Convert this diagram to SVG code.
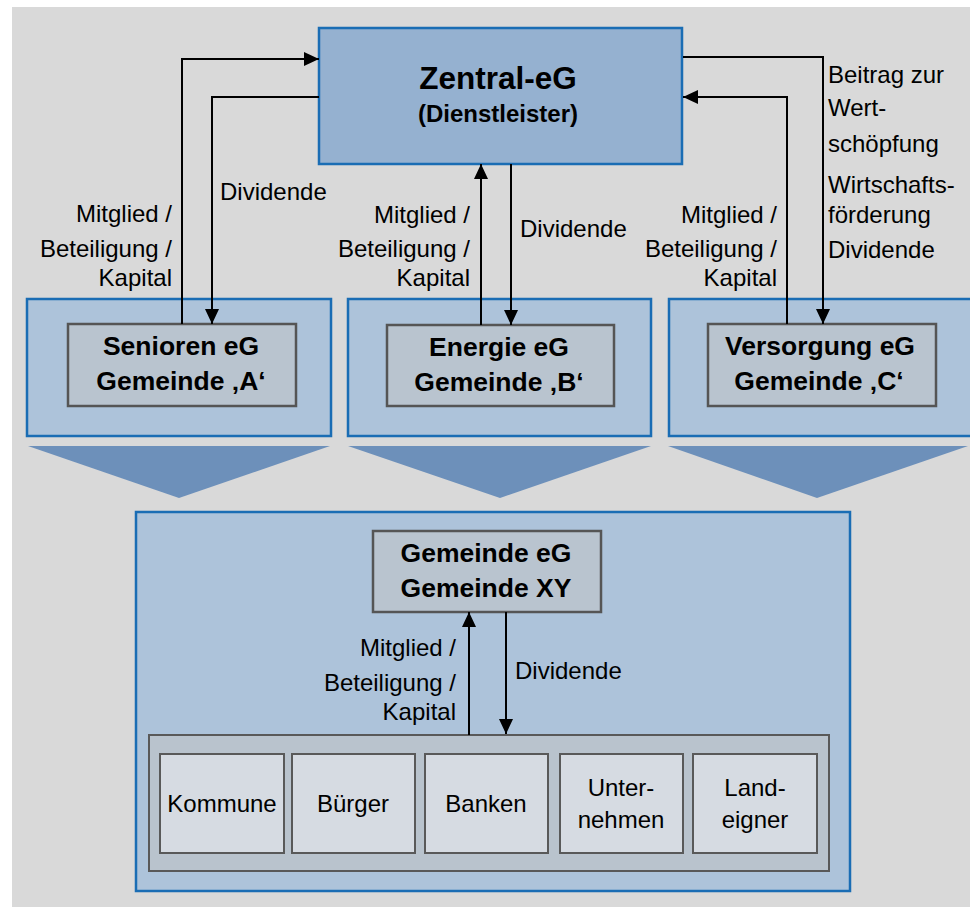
<svg xmlns="http://www.w3.org/2000/svg" width="970" height="907" viewBox="0 0 970 907">
<defs>
<marker id="ah" viewBox="0 0 15 14" refX="15" refY="7" markerWidth="15" markerHeight="14" markerUnits="userSpaceOnUse" orient="auto">
<path d="M0,0 L15,7 L0,14 z" fill="#000"/>
</marker>
<style>
.bg{fill:#d9d9d9}
.outer{fill:#adc3da;stroke:#1a6db4;stroke-width:2.5}
.central{fill:#95b1d0;stroke:#1a6db4;stroke-width:2.5}
.inner{fill:#b9c4cf;stroke:#555;stroke-width:2.5}
.chev{fill:#6d90ba}
.cont{fill:#b9c3cd;stroke:#595959;stroke-width:2}
.small{fill:#d6dbe2;stroke:#595959;stroke-width:2}
.b{font-family:"Liberation Sans",Arial,sans-serif;font-weight:bold;fill:#000}
.t{font-family:"Liberation Sans",Arial,sans-serif;font-size:24px;fill:#000}
.nb{font-size:26.5px;text-anchor:middle}
.c{text-anchor:middle}
.r{text-anchor:end}
.ln{fill:none;stroke:#000;stroke-width:2;marker-end:url(#ah)}
</style>
</defs>
<rect class="bg" x="12" y="7" width="958" height="900"/>

<g id="zentral">
<rect class="central" x="319" y="28" width="363" height="136"/>
<text class="b c" x="498" y="89" font-size="31.5">Zentral-eG</text>
<text class="b c" x="498" y="122" font-size="24">(Dienstleister)</text>
</g>

<g id="gruppe-a">
<rect class="outer" x="27" y="299" width="304" height="137"/>
<rect class="inner" x="68" y="324" width="228" height="82"/>
<text class="b nb" x="181" y="355">Senioren eG</text>
<text class="b nb" x="181" y="390">Gemeinde ‚A‘</text>
<polygon class="chev" points="28,446 330,446 179,498"/>
</g>

<g id="gruppe-b">
<rect class="outer" x="348" y="299" width="303" height="137"/>
<rect class="inner" x="387" y="325" width="227" height="81"/>
<text class="b nb" x="499" y="356">Energie eG</text>
<text class="b nb" x="499" y="391">Gemeinde ‚B‘</text>
<polygon class="chev" points="348,446 651,446 500,498"/>
</g>

<g id="gruppe-c">
<rect class="outer" x="669" y="299" width="310" height="137"/>
<rect class="inner" x="708" y="324" width="228" height="82"/>
<text class="b nb" x="820" y="355">Versorgung eG</text>
<text class="b nb" x="819" y="390">Gemeinde ‚C‘</text>
<polygon class="chev" points="668,446 968,446 817,498"/>
</g>

<g id="gemeinde-xy">
<rect class="outer" x="136" y="512" width="714" height="379"/>
<rect class="inner" x="373" y="531" width="228" height="81"/>
<text class="b nb" x="486" y="562">Gemeinde eG</text>
<text class="b nb" x="486" y="597">Gemeinde XY</text>
</g>

<g id="mitglieder">
<rect class="cont" x="149" y="735" width="680" height="136"/>
<g id="kommune"><rect class="small" x="160" y="754" width="124" height="99"/><text class="t c" x="222" y="812">Kommune</text></g>
<g id="buerger"><rect class="small" x="292" y="754" width="123" height="99"/><text class="t c" x="353" y="812">Bürger</text></g>
<g id="banken"><rect class="small" x="425" y="754" width="123" height="99"/><text class="t c" x="486" y="812">Banken</text></g>
<g id="unternehmen"><rect class="small" x="560" y="754" width="123" height="99"/><text class="t c" x="621" y="796">Unter-</text><text class="t c" x="621" y="828">nehmen</text></g>
<g id="landeigner"><rect class="small" x="693" y="754" width="124" height="99"/><text class="t c" x="755" y="796">Land-</text><text class="t c" x="755" y="828">eigner</text></g>
</g>

<g id="connectors">
<path class="ln" d="M182,324 V59 H319"/>
<path class="ln" d="M319,97 H212 V324"/>
<path class="ln" d="M481,325 V164"/>
<path class="ln" d="M511,164 V325"/>
<path class="ln" d="M683,57 H823 V324"/>
<path class="ln" d="M787,324 V97 H683"/>
<path class="ln" d="M469,735 V612"/>
<path class="ln" d="M506,612 V734"/>
</g>

<g id="labels">
<text class="t r" x="172" y="222">Mitglied /</text>
<text class="t r" x="172" y="257">Beteiligung /</text>
<text class="t r" x="172" y="286">Kapital</text>
<text class="t" x="220" y="200">Dividende</text>

<text class="t r" x="470" y="223">Mitglied /</text>
<text class="t r" x="470" y="257">Beteiligung /</text>
<text class="t r" x="470" y="286">Kapital</text>
<text class="t" x="520" y="237">Dividende</text>

<text class="t r" x="777" y="223">Mitglied /</text>
<text class="t r" x="777" y="257">Beteiligung /</text>
<text class="t r" x="777" y="286">Kapital</text>

<text class="t" x="828" y="83">Beitrag zur</text>
<text class="t" x="828" y="116">Wert-</text>
<text class="t" x="828" y="152">schöpfung</text>
<text class="t" x="828" y="193">Wirtschafts-</text>
<text class="t" x="828" y="223">förderung</text>
<text class="t" x="828" y="258">Dividende</text>

<text class="t r" x="456" y="656">Mitglied /</text>
<text class="t r" x="456" y="691">Beteiligung /</text>
<text class="t r" x="456" y="720">Kapital</text>
<text class="t" x="515" y="679">Dividende</text>
</g>
</svg>
